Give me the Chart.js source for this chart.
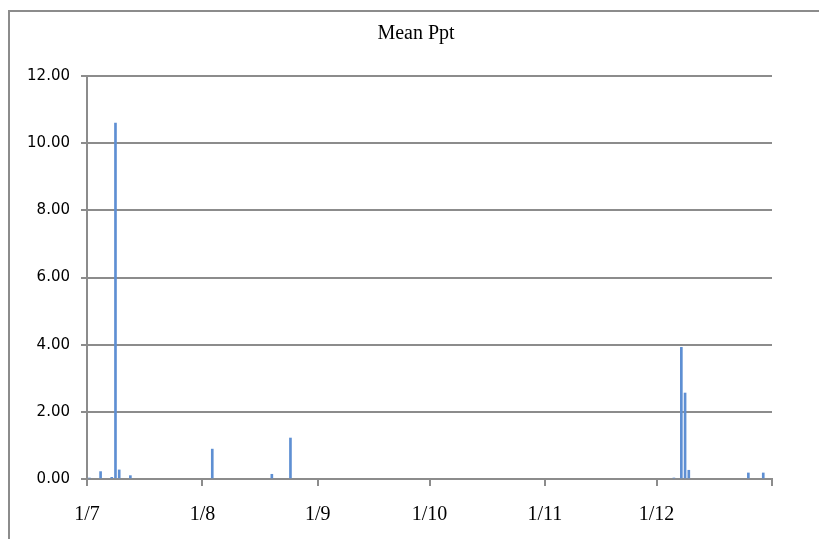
<!DOCTYPE html>
<html>
<head>
<meta charset="utf-8">
<script src="https://cdn.jsdelivr.net/npm/chart.js@4"></script>
<style>
  html, body { margin: 0; padding: 0; background: #fff; overflow: hidden; }
  #wrap { position: relative; width: 819px; height: 539px; overflow: hidden; }
  #frame { position: absolute; left: 8px; top: 10px; width: 900px; height: 600px;
           border: 2px solid #8c8c8c; box-sizing: border-box; pointer-events: none; }
  canvas { position: absolute; left: 0; top: 0; }
</style>
</head>
<body>
<div id="wrap">
  <canvas id="c" width="819" height="539"></canvas>
  <div id="frame"></div>
</div>
<script>
// ---- data ----
const rainDates  = ['2011-07-01','2011-07-04','2011-07-07','2011-07-08','2011-07-09','2011-07-12',
                    '2011-08-03','2011-08-19','2011-08-24',
                    '2011-12-05','2011-12-07','2011-12-08','2011-12-09','2011-12-25','2011-12-29'];
const rainValues = [0.03, 0.22, 0.05, 10.60, 0.27, 0.10,
                    0.89, 0.14, 1.22,
                    0.03, 3.92, 2.56, 0.26, 0.18, 0.18];
const monthTickDates  = ['2011-07-01','2011-08-01','2011-09-01','2011-10-01','2011-11-01','2011-12-01','2012-01-01'];
const monthTickLabels = ['1/7','1/8','1/9','1/10','1/11','1/12',''];
const yTicks = [0, 2, 4, 6, 8, 10, 12];
const chartTitle = 'Mean Ppt';

// ---- helpers ----
const startMs = Date.UTC(2011, 6, 1);
function dayIndex(s) {
  const [y, m, d] = s.split('-').map(Number);
  return Math.round((Date.UTC(y, m - 1, d) - startMs) / 86400000);
}
const tickValues = monthTickDates.map(dayIndex);
const points = rainDates.map((d, i) => ({ x: dayIndex(d) + 0.65, y: rainValues[i] }));
const GRID = '#8c8c8c';

new Chart(document.getElementById('c'), {
  type: 'bar',
  data: {
    datasets: [{
      label: chartTitle,
      data: points,
      backgroundColor: '#5e8fd3',
      borderWidth: 0,
      barThickness: 2
    }]
  },
  options: {
    responsive: false,
    animation: false,
    devicePixelRatio: 1,
    layout: { padding: { left: 13, right: 0, top: 0, bottom: 0 } },
    plugins: {
      legend: { display: false },
      tooltip: { enabled: false },
      title: {
        display: true,
        text: chartTitle,
        color: '#000',
        font: { family: 'Liberation Serif', size: 20, weight: 'normal' },
        padding: { top: 22, bottom: 30 }
      }
    },
    scales: {
      x: {
        type: 'linear',
        offset: false,
        min: tickValues[0],
        max: tickValues[tickValues.length - 1],
        afterBuildTicks: (scale) => { scale.ticks = tickValues.map(v => ({ value: v })); },
        afterFit: (scale) => { scale.height = 60; },
        ticks: {
          autoSkip: false, maxRotation: 0, minRotation: 0,
          padding: 17,
          color: '#000',
          font: { family: 'Liberation Serif', size: 20 },
          callback: (v) => { const i = tickValues.indexOf(v); return i >= 0 ? monthTickLabels[i] : ''; }
        },
        grid: { offset: false, drawOnChartArea: false, drawTicks: true, tickLength: 7, color: GRID, lineWidth: 2 },
        border: { display: true, color: GRID, width: 2 }
      },
      y: {
        position: 'left',
        min: yTicks[0],
        max: yTicks[yTicks.length - 1],
        afterBuildTicks: (scale) => { scale.ticks = yTicks.map(v => ({ value: v })); },
        afterFit: (scale) => { scale.width = 74; },
        ticks: {
          padding: 11,
          color: '#000',
          font: { family: 'DejaVu Sans', size: 15 },
          callback: (v) => Number(v).toFixed(2)
        },
        grid: { color: GRID, lineWidth: 2, tickLength: 6, drawTicks: true },
        border: { display: true, color: GRID, width: 2 }
      },
      yRightSpace: {
        position: 'right',
        display: true,
        min: 0, max: 1,
        afterFit: (scale) => { scale.width = 47; },
        ticks: { display: false },
        grid: { display: false, drawTicks: false },
        border: { display: false }
      }
    }
  }
});
</script>
</body>
</html>
